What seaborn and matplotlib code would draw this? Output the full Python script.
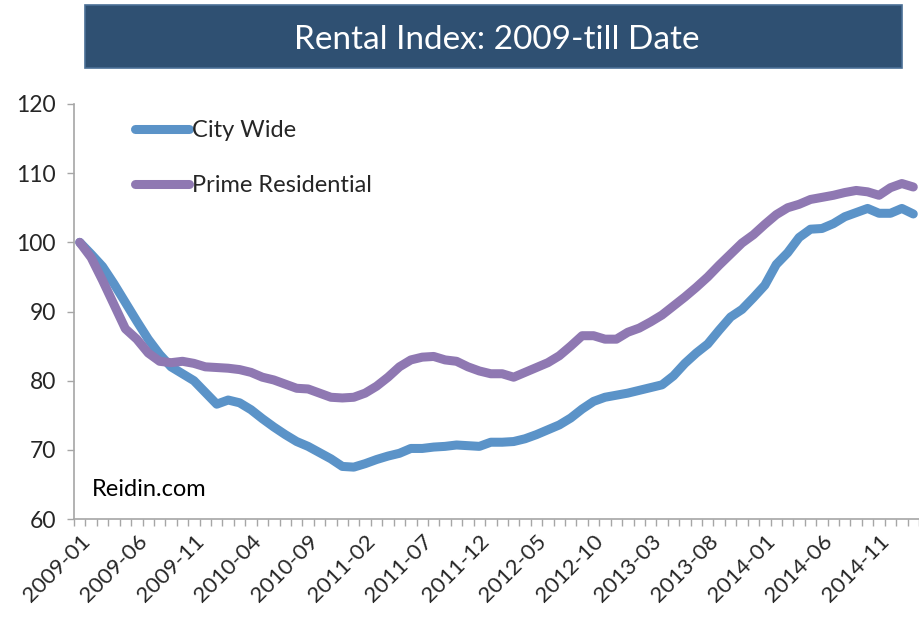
import pandas as pd
import numpy as np
import matplotlib
matplotlib.use('Agg')
import matplotlib.pyplot as plt
from matplotlib.patches import Rectangle
from matplotlib.ticker import FixedLocator
import seaborn as sns

# Monthly index values, 2009-01 .. 2015-02
months = pd.period_range('2009-01', '2015-02', freq='M').strftime('%Y-%m').tolist()

city_wide = [
    100.0, 98.3, 96.5, 94.0, 91.3, 88.6, 86.0, 83.8, 82.0, 81.0, 80.0, 78.3,
    76.6, 77.2, 76.8, 75.8, 74.5, 73.3, 72.2, 71.2, 70.5, 69.6, 68.7, 67.6,
    67.5, 68.0, 68.6, 69.1, 69.5, 70.2, 70.2, 70.4, 70.5, 70.7, 70.6, 70.5,
    71.1, 71.1, 71.2, 71.6, 72.2, 72.9, 73.6, 74.6, 75.9, 77.0, 77.6, 77.9,
    78.2, 78.6, 79.0, 79.4, 80.7, 82.5, 84.0, 85.3, 87.3, 89.2, 90.3, 92.0,
    93.8, 96.8, 98.5, 100.7, 101.9, 102.0, 102.7, 103.7, 104.3, 104.9, 104.2, 104.2,
    104.9, 104.1,
]
prime_residential = [
    100.0, 97.8, 94.5, 91.0, 87.5, 86.0, 84.0, 82.8, 82.6, 82.8, 82.5, 82.0,
    81.9, 81.8, 81.6, 81.2, 80.5, 80.1, 79.5, 78.9, 78.8, 78.2, 77.6, 77.5,
    77.6, 78.2, 79.2, 80.5, 82.0, 83.0, 83.4, 83.5, 83.0, 82.8, 82.0, 81.4,
    81.0, 81.0, 80.5, 81.2, 81.9, 82.6, 83.6, 85.0, 86.5, 86.5, 86.0, 86.0,
    87.0, 87.6, 88.5, 89.5, 90.8, 92.1, 93.5, 95.0, 96.7, 98.3, 99.9, 101.1,
    102.6, 104.0, 105.0, 105.5, 106.2, 106.5, 106.8, 107.2, 107.5, 107.3, 106.8, 107.9,
    108.5, 108.0,
]
series_names = ['City Wide', 'Prime Residential']
series_colors = ['#5b93c8', '#8f78b2']
yticks = [60, 70, 80, 90, 100, 110, 120]

df = pd.DataFrame({
    'pos': list(range(len(months))) * 2,
    'month': months * 2,
    'value': city_wide + prime_residential,
    'series': [series_names[0]] * len(months) + [series_names[1]] * len(months),
})

sns.set_style('white')
plt.rcParams['font.family'] = ['Lato', 'DejaVu Sans']

fig = plt.figure(figsize=(9.19, 6.21), dpi=100)
ax = fig.add_axes([74 / 919, 1 - 519 / 621, 1 - 74 / 919, (519 - 104) / 621])

sns.lineplot(data=df, x='pos', y='value', hue='series', hue_order=series_names,
             palette=series_colors, linewidth=6.5, ax=ax, legend=True)
for line in ax.get_lines():
    line.set_solid_capstyle('round')
    line.set_solid_joinstyle('round')

ax.set_xlim(-0.5, len(months) - 0.5)
ax.set_ylim(60, 120)
ax.set_yticks(yticks)
ax.set_xlabel('')
ax.set_ylabel('')

label_pos = list(range(0, len(months), 5))
ax.set_xticks(label_pos)
ax.set_xticklabels([months[i] for i in label_pos], rotation=45, ha='right',
                   va='top', rotation_mode='anchor', fontsize=16)
ax.xaxis.set_minor_locator(FixedLocator(np.arange(-0.5, len(months), 1.0)))
ax.tick_params(axis='x', which='major', length=0, pad=9)
ax.tick_params(axis='x', which='minor', length=5, width=1, color='#a6a6a6',
               direction='out', bottom=True)
ax.tick_params(axis='y', length=5, width=1, color='#a6a6a6', direction='out',
               left=True, labelsize=16.5, pad=8)

for side in ['top', 'right']:
    ax.spines[side].set_visible(False)
for side in ['left', 'bottom']:
    ax.spines[side].set_color('#a6a6a6')
    ax.spines[side].set_linewidth(1.2)

leg = ax.legend(loc='upper left', bbox_to_anchor=(0.047, 1.013), frameon=False,
                fontsize=17, handlelength=2.3, handletextpad=0.1,
                labelspacing=1.45)
for h in leg.get_lines():
    h.set_linewidth(6.5)
    h.set_solid_capstyle('round')

ax.text(0.021, 0.07, 'Reidin.com', transform=ax.transAxes, fontsize=17,
        ha='left', va='center', color='black')

# title box
fig.patches.append(Rectangle((85 / 919, 1 - 68 / 621), 817 / 919, 63 / 621,
                             transform=fig.transFigure, facecolor='#2f5072',
                             edgecolor='#4a6f96', linewidth=1.2, zorder=0))
fig.text(497 / 919, 1 - 40 / 621, 'Rental Index: 2009-till Date', color='white',
         fontsize=24, ha='center', va='center')

fig.savefig('out.png', dpi=100)
plt.close(fig)
